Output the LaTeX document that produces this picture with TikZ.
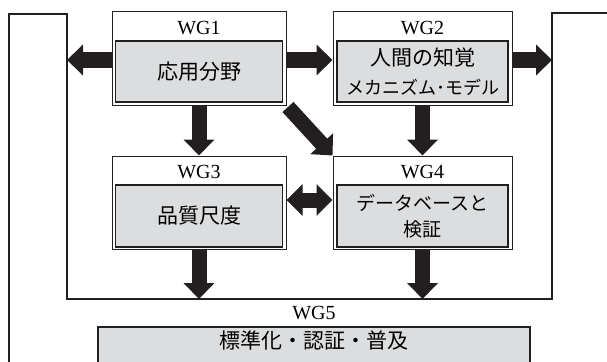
\documentclass[tikz,border=0pt]{standalone}
\usepackage{fontspec}
\newfontfamily\cjk{Noto Sans CJK JP}
\newfontfamily\wgfont{Liberation Serif}
\usetikzlibrary{arrows.meta,calc}
\definecolor{linecol}{RGB}{35,31,32}
\definecolor{boxgray}{RGB}{220,221,222}
\tikzset{
  outerbox/.style={draw=linecol, line width=1pt, fill=white, inner sep=0pt, minimum height=93pt},
  innerbox/.style={draw=linecol, line width=1.6pt, fill=boxgray, inner sep=0pt, align=center,
     font=\cjk\fontsize{21}{27}\selectfont},
  wglabel/.style={inner sep=0pt, font=\wgfont\fontsize{20}{20}\selectfont},
  blockarrow/.style={draw=linecol, line width=15pt, -{Triangle[length=16pt,width=30pt]}},
  dblarrow/.style={draw=linecol, line width=15pt, {Triangle[length=16pt,width=31pt]}-{Triangle[length=16pt,width=31pt]}},
  frameline/.style={draw=linecol, line width=1.2pt}
}
\begin{document}
\begin{tikzpicture}[x=1pt,y=-1pt]
\useasboundingbox (0,0) rectangle (607,361);
\clip (0,0) rectangle (607,361);
% WG5 frame
\draw[frameline] (9,400) -- (9,14) -- (67,14) -- (67,299) -- (552,299) -- (552,13) -- (640,13) -- (640,400);
\coordinate (fL) at (67,60);
\coordinate (fR) at (552,60);
\coordinate (fB) at (0,299);
% WG5 content
\node[wglabel] (wg5lab) at (314,313) {WG5};
\node[draw=linecol, line width=1.2pt, fill=boxgray, inner sep=0pt, minimum width=432pt, minimum height=60pt] (wg5) at (314,357) {};
\node[inner sep=0pt, font=\cjk\fontsize{21}{21}\selectfont] (wg5txt) at (314,340) {標準化・認証・普及};
% WG1
\node[outerbox, minimum width=174pt] (wg1) at (199,58.5) {};
\node[wglabel] (wg1lab) at (199,28) {WG1};
\node[innerbox, minimum width=167pt, minimum height=61pt] (wg1in) at (199,71.5) {応用分野};
% WG2
\node[outerbox, minimum width=179pt] (wg2) at (422.5,58.5) {};
\node[wglabel] (wg2lab) at (422.5,28) {WG2};
\node[innerbox, minimum width=171pt, minimum height=61pt, font=\cjk\fontsize{21}{29}\selectfont] (wg2in) at (422.5,71.5) {人間の知覚\\{\fontsize{18}{29}\selectfont メカニズム･モデル}};
% WG3
\node[outerbox, minimum width=174pt] (wg3) at (199,202.5) {};
\node[wglabel] (wg3lab) at (199,172) {WG3};
\node[innerbox, minimum width=167pt, minimum height=62pt] (wg3in) at (199,216) {品質尺度};
% WG4
\node[outerbox, minimum width=179pt] (wg4) at (422.5,202.5) {};
\node[wglabel] (wg4lab) at (422.5,172) {WG4};
\node[innerbox, minimum width=171pt, minimum height=62pt, font=\cjk\fontsize{19}{26}\selectfont] (wg4in) at (422.5,216) {データベースと\\検証};
% arrows
\draw[blockarrow] ([yshift=-1.5pt]wg1.west) -- (fL);
\draw[blockarrow] ([yshift=-1.5pt]wg1.east) -- ([yshift=-1.5pt]wg2.west);
\draw[blockarrow] ([yshift=-1.5pt]wg2.east) -- (fR);
\draw[blockarrow] (wg1.south) -- (wg3.north);
\draw[blockarrow] (wg2.south) -- (wg4.north);
\draw[blockarrow] ($(wg1.south east)+(1.5,1.5)$) -- (wg4.north west);
\draw[dblarrow] ([yshift=2.5pt]wg3.east) -- ([yshift=2.5pt]wg4.west);
\draw[blockarrow] (wg3.south) -- (wg3.south |- fB);
\draw[blockarrow] (wg4.south) -- (wg4.south |- fB);
\end{tikzpicture}
\end{document}
